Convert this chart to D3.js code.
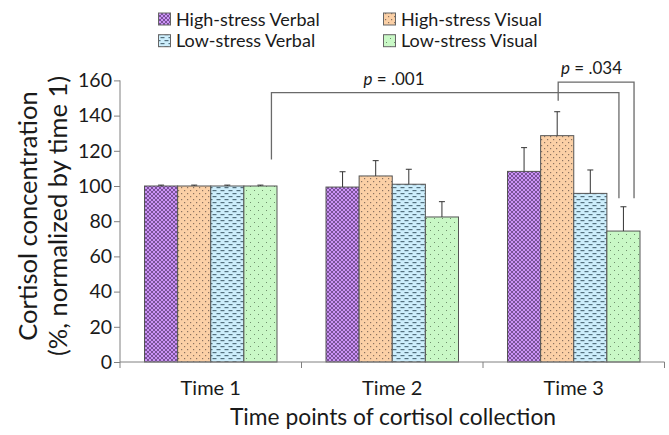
<!DOCTYPE html>
<html>
<head>
<meta charset="utf-8">
<script src="https://cdn.jsdelivr.net/npm/d3@7"></script>
<style>
  html, body { margin: 0; padding: 0; background: #fff; }
  svg { display: block; font-family: Lato, "Open Sans", sans-serif; }
</style>
</head>
<body>
<svg id="chart" width="669" height="435"></svg>
<script>
// ---- data ----
const times = ["Time 1", "Time 2", "Time 3"];
const seriesNames = ["High-stress Verbal", "High-stress Visual", "Low-stress Verbal", "Low-stress Visual"];
const highStressVerbal = [100, 99.4, 108.3];
const highStressVisual = [100, 105.7, 128.6];
const lowStressVerbal  = [100, 101.0, 95.8];
const lowStressVisual  = [100, 82.4, 74.4];
const highStressVerbalErr = [0.5, 8.7, 13.5];
const highStressVisualErr = [0.5, 8.7, 13.6];
const lowStressVerbalErr  = [0.5, 8.5, 13.3];
const lowStressVisualErr  = [0.5, 8.7, 13.8];
const yTicks = [0, 20, 40, 60, 80, 100, 120, 140, 160];
const brackets = [
  { p: ".001", from: ["Time 1", "Low-stress Visual"], to: ["Time 3", "Low-stress Visual"], fromY: 115, topY: 153, toY: 93 },
  { p: ".034", from: ["Time 3", "High-stress Visual"], to: ["Time 3", "Low-stress Visual"], fromY: 148.5, topY: 159, toY: 93 }
];

const values = [highStressVerbal, highStressVisual, lowStressVerbal, lowStressVisual];
const errors = [highStressVerbalErr, highStressVisualErr, lowStressVerbalErr, lowStressVisualErr];
const rows = [];
seriesNames.forEach((s, i) => times.forEach((t, j) => rows.push({ series: s, time: t, value: values[i][j], err: errors[i][j] })));

// ---- setup ----
const svg = d3.select("#chart");
const x0 = d3.scaleBand().domain(times).range([120, 664.5]).paddingInner(0.27).paddingOuter(0.135);
const x1 = d3.scaleBand().domain(seriesNames).range([0, x0.bandwidth()]);
const y = d3.scaleLinear().domain([0, 160]).range([362, 80.4]);
const step = x0.step();

// patterns
const defs = svg.append("defs");
function pat(id, w, h, bg, draw) {
  const p = defs.append("pattern").attr("id", id).attr("patternUnits", "userSpaceOnUse").attr("width", w).attr("height", h);
  p.append("rect").attr("width", w).attr("height", h).attr("fill", bg);
  draw(p);
}
pat("p0", 4, 4, "#cc92f7", p => {
  p.append("path").attr("d", "M0,0L4,4M4,0L0,4M-1,3L1,5M3,-1L5,1M-1,1L1,-1M3,5L5,3").attr("stroke", "#5e3d78").attr("stroke-width", 0.75);
});
pat("p1", 6, 6, "#fbd0a6", p => {
  p.append("rect").attr("x", 1).attr("y", 1).attr("width", 1.2).attr("height", 1.2).attr("fill", "#8a7260");
  p.append("rect").attr("x", 4).attr("y", 4).attr("width", 1.2).attr("height", 1.2).attr("fill", "#8a7260");
});
pat("p2", 8, 6, "#cdeefc", p => {
  p.append("rect").attr("x", 0.5).attr("y", 1).attr("width", 4).attr("height", 1.2).attr("fill", "#53707e");
  p.append("rect").attr("x", 4.5).attr("y", 4).attr("width", 4).attr("height", 1.2).attr("fill", "#53707e");
  p.append("rect").attr("x", -3.5).attr("y", 4).attr("width", 4).attr("height", 1.2).attr("fill", "#53707e");
});
pat("p3", 8, 8, "#c9f8c6", p => {
  p.append("rect").attr("x", 2).attr("y", 2).attr("width", 1).attr("height", 1).attr("fill", "#6f8f6c");
  p.append("rect").attr("x", 6).attr("y", 6).attr("width", 1).attr("height", 1).attr("fill", "#6f8f6c");
});
const fillFor = s => `url(#p${seriesNames.indexOf(s)})`;

// ---- bars ----
svg.append("g").selectAll("rect").data(rows).join("rect")
  .attr("x", d => x0(d.time) + x1(d.series))
  .attr("y", d => y(d.value))
  .attr("width", x1.bandwidth())
  .attr("height", d => y(0) - y(d.value))
  .attr("fill", d => fillFor(d.series))
  .attr("stroke", "#555")
  .attr("stroke-width", 1);

// error bars (upper only)
const eg = svg.append("g").attr("stroke", "#333").attr("stroke-width", 1);
rows.forEach(d => {
  const cx = x0(d.time) + x1(d.series) + x1.bandwidth() / 2;
  eg.append("line").attr("x1", cx).attr("x2", cx).attr("y1", y(d.value)).attr("y2", y(d.value + d.err));
  eg.append("line").attr("x1", cx - 3).attr("x2", cx + 3).attr("y1", y(d.value + d.err)).attr("y2", y(d.value + d.err));
});

// ---- axes ----
const axisColor = "#808080";
const yAxis = svg.append("g").attr("transform", "translate(120,0)")
  .call(d3.axisLeft(y).tickValues(yTicks).tickSize(6).tickPadding(2));
yAxis.select(".domain").attr("stroke", axisColor).attr("d", `M0,${y(160)}V${y(0) + 6}`);
yAxis.selectAll(".tick line").attr("stroke", axisColor);
yAxis.selectAll(".tick text").attr("font-size", 19.5).attr("fill", "#1a1a1a").attr("font-family", "Lato");

const xg = svg.append("g").attr("transform", `translate(0,${y(0)})`);
xg.append("line").attr("x1", x0.range()[0]).attr("x2", x0.range()[1]).attr("stroke", axisColor);
const boundaries = times.map(t => x0(t) - step * x0.paddingInner() / 2).slice(1).concat([x0.range()[1]]);
xg.selectAll(".bt").data(boundaries).join("line")
  .attr("x1", d => d).attr("x2", d => d).attr("y1", 0).attr("y2", 6).attr("stroke", axisColor);
xg.selectAll(".tl").data(times).join("text")
  .attr("x", t => x0(t) + x0.bandwidth() / 2)
  .attr("y", 33)
  .attr("text-anchor", "middle")
  .attr("font-size", 20)
  .attr("fill", "#1a1a1a")
  .text(t => t);

// axis titles
svg.append("text").attr("x", 393).attr("y", 425).attr("text-anchor", "middle")
  .attr("font-size", 22.8).attr("fill", "#1a1a1a").text("Time points of cortisol collection");
svg.append("text").attr("transform", "translate(37,216) rotate(-90)").attr("text-anchor", "middle")
  .attr("font-size", 25.5).attr("fill", "#1a1a1a").text("Cortisol concentration");
svg.append("text").attr("transform", "translate(67,216) rotate(-90)").attr("text-anchor", "middle")
  .attr("font-size", 25.5).attr("fill", "#1a1a1a").text("(%, normalized by time 1)");

// ---- brackets ----
const legOffsets = [[11, -4.5], [1, 10.6]];
const labelX = [394, 591.5];
brackets.forEach((b, i) => {
  const xa = x0(b.from[0]) + x1(b.from[1]) + x1.bandwidth() / 2 + legOffsets[i][0];
  const xb = x0(b.to[0]) + x1(b.to[1]) + x1.bandwidth() / 2 + legOffsets[i][1];
  svg.append("path")
    .attr("d", `M${xa},${y(b.fromY)}V${y(b.topY)}H${xb}V${y(b.toY)}`)
    .attr("fill", "none").attr("stroke", "#6a6a6a").attr("stroke-width", 1.3);
  const t = svg.append("text").attr("x", labelX[i]).attr("y", y(b.topY) - 8).attr("text-anchor", "middle")
    .attr("font-size", 17).attr("fill", "#1a1a1a");
  t.append("tspan").attr("font-style", "italic").text("p");
  t.append("tspan").text(" = " + b.p);
});

// ---- legend ----
const legX = [158.5, 383.5];
const legY = [25.5, 47.2];
const lg = svg.append("g");
seriesNames.forEach((s, i) => {
  const col = i % 2, row = Math.floor(i / 2);
  lg.append("rect").attr("x", legX[col]).attr("y", legY[row] - 12.5).attr("width", 12).attr("height", 12)
    .attr("fill", fillFor(s)).attr("stroke", "#666").attr("stroke-width", 1);
  lg.append("text").attr("x", legX[col] + 17.5).attr("y", legY[row]).attr("font-size", 18)
    .attr("fill", "#1a1a1a").text(s);
});
</script>
</body>
</html>
